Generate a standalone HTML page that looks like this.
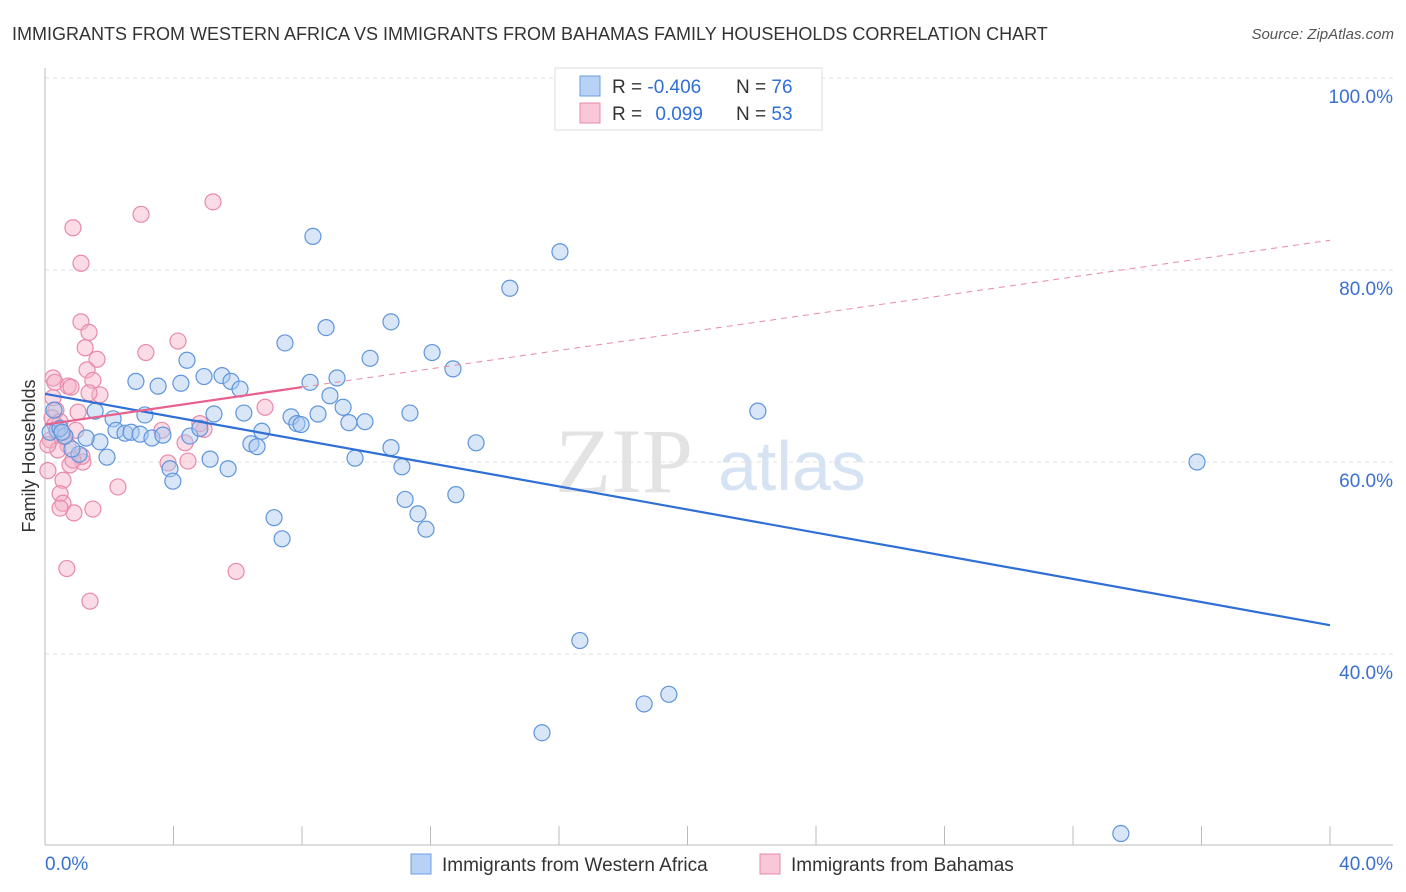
<!DOCTYPE html>
<html><head><meta charset="utf-8"><style>
body{margin:0;background:#fff;font-family:"Liberation Sans",sans-serif}
svg{display:block}
</style></head><body>
<svg id="chart" width="1406" height="892">
<text x="12" y="40" font-size="18" fill="#333">IMMIGRANTS FROM WESTERN AFRICA VS IMMIGRANTS FROM BAHAMAS FAMILY HOUSEHOLDS CORRELATION CHART</text>
<text x="1394" y="39" font-size="15" fill="#555" font-style="italic" text-anchor="end">Source: ZipAtlas.com</text>
<g>
<text x="555" y="492" font-size="92" fill="#e3e3e3" font-family="Liberation Serif,serif">ZIP</text>
<text x="718" y="490" font-size="70" fill="#d6e3f3">atlas</text>
</g>
<g id="grid"></g>
<g id="axes"></g>
<g id="marks"></g>
<text x="35" y="456" font-size="18" fill="#333" text-anchor="middle" transform="rotate(-90 35 456)">Family Households</text>
<g>
<rect x="555" y="68" width="267" height="62" fill="#fff" stroke="#ddd"/>
<rect x="580" y="76" width="20" height="20" fill="#b8d2f5" stroke="#6a9fe0"/>
<rect x="580" y="103" width="20" height="20" fill="#f8c8d8" stroke="#e88aa8"/>
<text x="612" y="93" font-size="19" fill="#333">R = <tspan fill="#2f6fd6">-0.406</tspan></text>
<text x="736" y="93" font-size="19" fill="#333">N = <tspan fill="#2f6fd6">76</tspan></text>
<text x="612" y="120" font-size="19" fill="#333">R = <tspan fill="#2f6fd6" dx="8">0.099</tspan></text>
<text x="736" y="120" font-size="19" fill="#333">N = <tspan fill="#2f6fd6">53</tspan></text>
</g>
<g>
<rect x="411" y="854" width="20" height="20" fill="#b8d2f5" stroke="#6a9fe0"/>
<text x="442" y="871" font-size="19" fill="#333">Immigrants from Western Africa</text>
<rect x="760" y="854" width="20" height="20" fill="#f8c8d8" stroke="#e88aa8"/>
<text x="791" y="871" font-size="19" fill="#333">Immigrants from Bahamas</text>
</g>
</svg>
<script>
const yTicks=[40,60,80,100];
const yTickLabels=["40.0%","60.0%","80.0%","100.0%"];
const xEndLabels=["0.0%","40.0%"];
const blueX=[8.34,16.03,14.47,10.77,8.75,7.47,12.05,10.12,4.42,12.70,2.83,3.52,4.23,4.95,5.51,5.79,6.07,8.25,9.09,8.87,9.28,1.56,2.12,3.11,5.26,6.19,7.66,8.50,9.46,9.96,11.36,7.84,7.97,22.19,35.86,13.42,10.77,11.11,9.65,6.75,6.41,6.60,2.21,2.49,2.68,2.96,3.33,3.67,4.51,4.82,1.71,1.93,1.06,0.84,0.37,0.62,0.16,0.28,5.14,5.70,3.89,3.98,11.21,12.79,11.61,11.86,7.13,7.38,16.65,18.65,19.42,15.47,33.49,0.47,0.53,1.28];
const blueY=[83.5,81.9,78.1,74.6,74.0,72.4,71.4,70.8,70.6,69.7,68.4,67.9,68.2,68.9,69.0,68.4,67.6,68.3,68.75,66.9,65.7,65.3,64.5,64.9,65.0,65.1,64.7,65.0,64.1,64.2,65.1,64.0,63.9,65.3,60.0,62.0,61.5,59.5,60.4,63.2,61.9,61.6,63.3,63.0,63.1,62.9,62.5,62.8,62.7,63.5,62.1,60.5,60.8,61.35,63.3,62.7,63.1,65.4,60.3,59.3,59.3,58.0,56.1,56.6,54.6,53.0,54.2,52.0,41.4,34.8,35.8,31.8,21.3,63.5,63.1,62.5];
const pinkX=[5.23,2.99,0.87,1.12,1.12,1.37,4.14,1.25,3.14,1.62,1.31,0.25,0.31,0.72,1.49,0.81,1.71,1.37,0.25,0.34,1.03,0.22,0.47,0.31,0.40,0.59,0.72,3.64,4.36,4.95,4.82,3.83,4.45,1.18,0.78,1.15,0.09,0.56,2.27,0.47,0.56,1.49,0.90,0.47,0.68,5.95,1.40,6.85,0.96,0.16,0.40,0.87,0.09];
const pinkY=[87.1,85.8,84.4,80.7,74.6,73.5,72.6,71.9,71.4,70.7,69.6,68.75,68.3,67.9,68.5,67.8,67.0,67.2,66.7,65.4,65.2,64.6,64.2,63.9,63.3,62.6,61.7,63.3,62.0,63.4,64.0,59.9,60.1,60.0,59.7,60.6,59.1,58.1,57.4,56.7,55.7,55.1,54.7,55.2,48.9,48.6,45.5,65.7,63.3,62.3,61.25,60.2,61.8];
const blueTrend=[[0,67.1],[40,43.0]];
const pinkTrend=[[0,63.9],[8.0,67.8]];
const pinkTrendExt=[[8.0,67.8],[40,83.1]];
const X=v=>45+v*(1285/40);
const Y=v=>78+(100-v)*9.6;
const NS="http://www.w3.org/2000/svg";
function mk(tag,attrs,parent){const e=document.createElementNS(NS,tag);for(const k in attrs)e.setAttribute(k,attrs[k]);parent.appendChild(e);return e;}
const grid=document.getElementById('grid'),axes=document.getElementById('axes'),marks=document.getElementById('marks');
yTicks.forEach((t,i)=>{
 const l=mk('line',{x1:45,x2:1393,y1:Y(t),y2:Y(t),stroke:'#e2e2e2','stroke-dasharray':'4,4'},grid);
 
 
 const tx=mk('text',{x:1393,y:Y(t)+25,'font-size':19,fill:'#3a70d0','text-anchor':'end'},axes);
 tx.textContent=yTickLabels[i];
 
 
});
let a=mk('line',{x1:45,x2:45,y1:68,y2:845,stroke:'#bbb'},axes);


a=mk('line',{x1:45,x2:1393,y1:845,y2:845,stroke:'#bbb'},axes);


for(let k=0;k<=10;k++){
 const t=mk('line',{x1:X(k*4),x2:X(k*4),y1:826,y2:845,stroke:'#bbb'},axes);
 
 
}
[[0,'start',45],[40,'end',1393]].forEach((d,i)=>{
 const t=mk('text',{x:d[2],y:870,'font-size':19,fill:'#3a70d0','text-anchor':d[1]},axes);
 t.textContent=xEndLabels[i];
 
 
});
function pts(xs,ys,fill,stroke,name){
 xs.forEach((x,i)=>{
  const c=mk('circle',{cx:X(x),cy:Y(ys[i]),r:8,fill:fill,'fill-opacity':0.45,stroke:stroke,'stroke-width':1.2},marks);
  
  
 });
}
pts(pinkX,pinkY,'#f5b0c8','#e88aa8','bahamas-point');
pts(blueX,blueY,'#a9c8f0','#5f95dc','western-africa-point');
let l=mk('line',{x1:X(pinkTrendExt[0][0]),y1:Y(pinkTrendExt[0][1]),x2:X(pinkTrendExt[1][0]),y2:Y(pinkTrendExt[1][1]),stroke:'#e88aa8','stroke-dasharray':'6,5','stroke-width':1},marks);


l=mk('line',{x1:X(blueTrend[0][0]),y1:Y(blueTrend[0][1]),x2:X(blueTrend[1][0]),y2:Y(blueTrend[1][1]),stroke:'#2f6fd6','stroke-width':2.2},marks);


l=mk('line',{x1:X(pinkTrend[0][0]),y1:Y(pinkTrend[0][1]),x2:X(pinkTrend[1][0]),y2:Y(pinkTrend[1][1]),stroke:'#e8608e','stroke-width':2.2},marks);


</script>
</body></html>
